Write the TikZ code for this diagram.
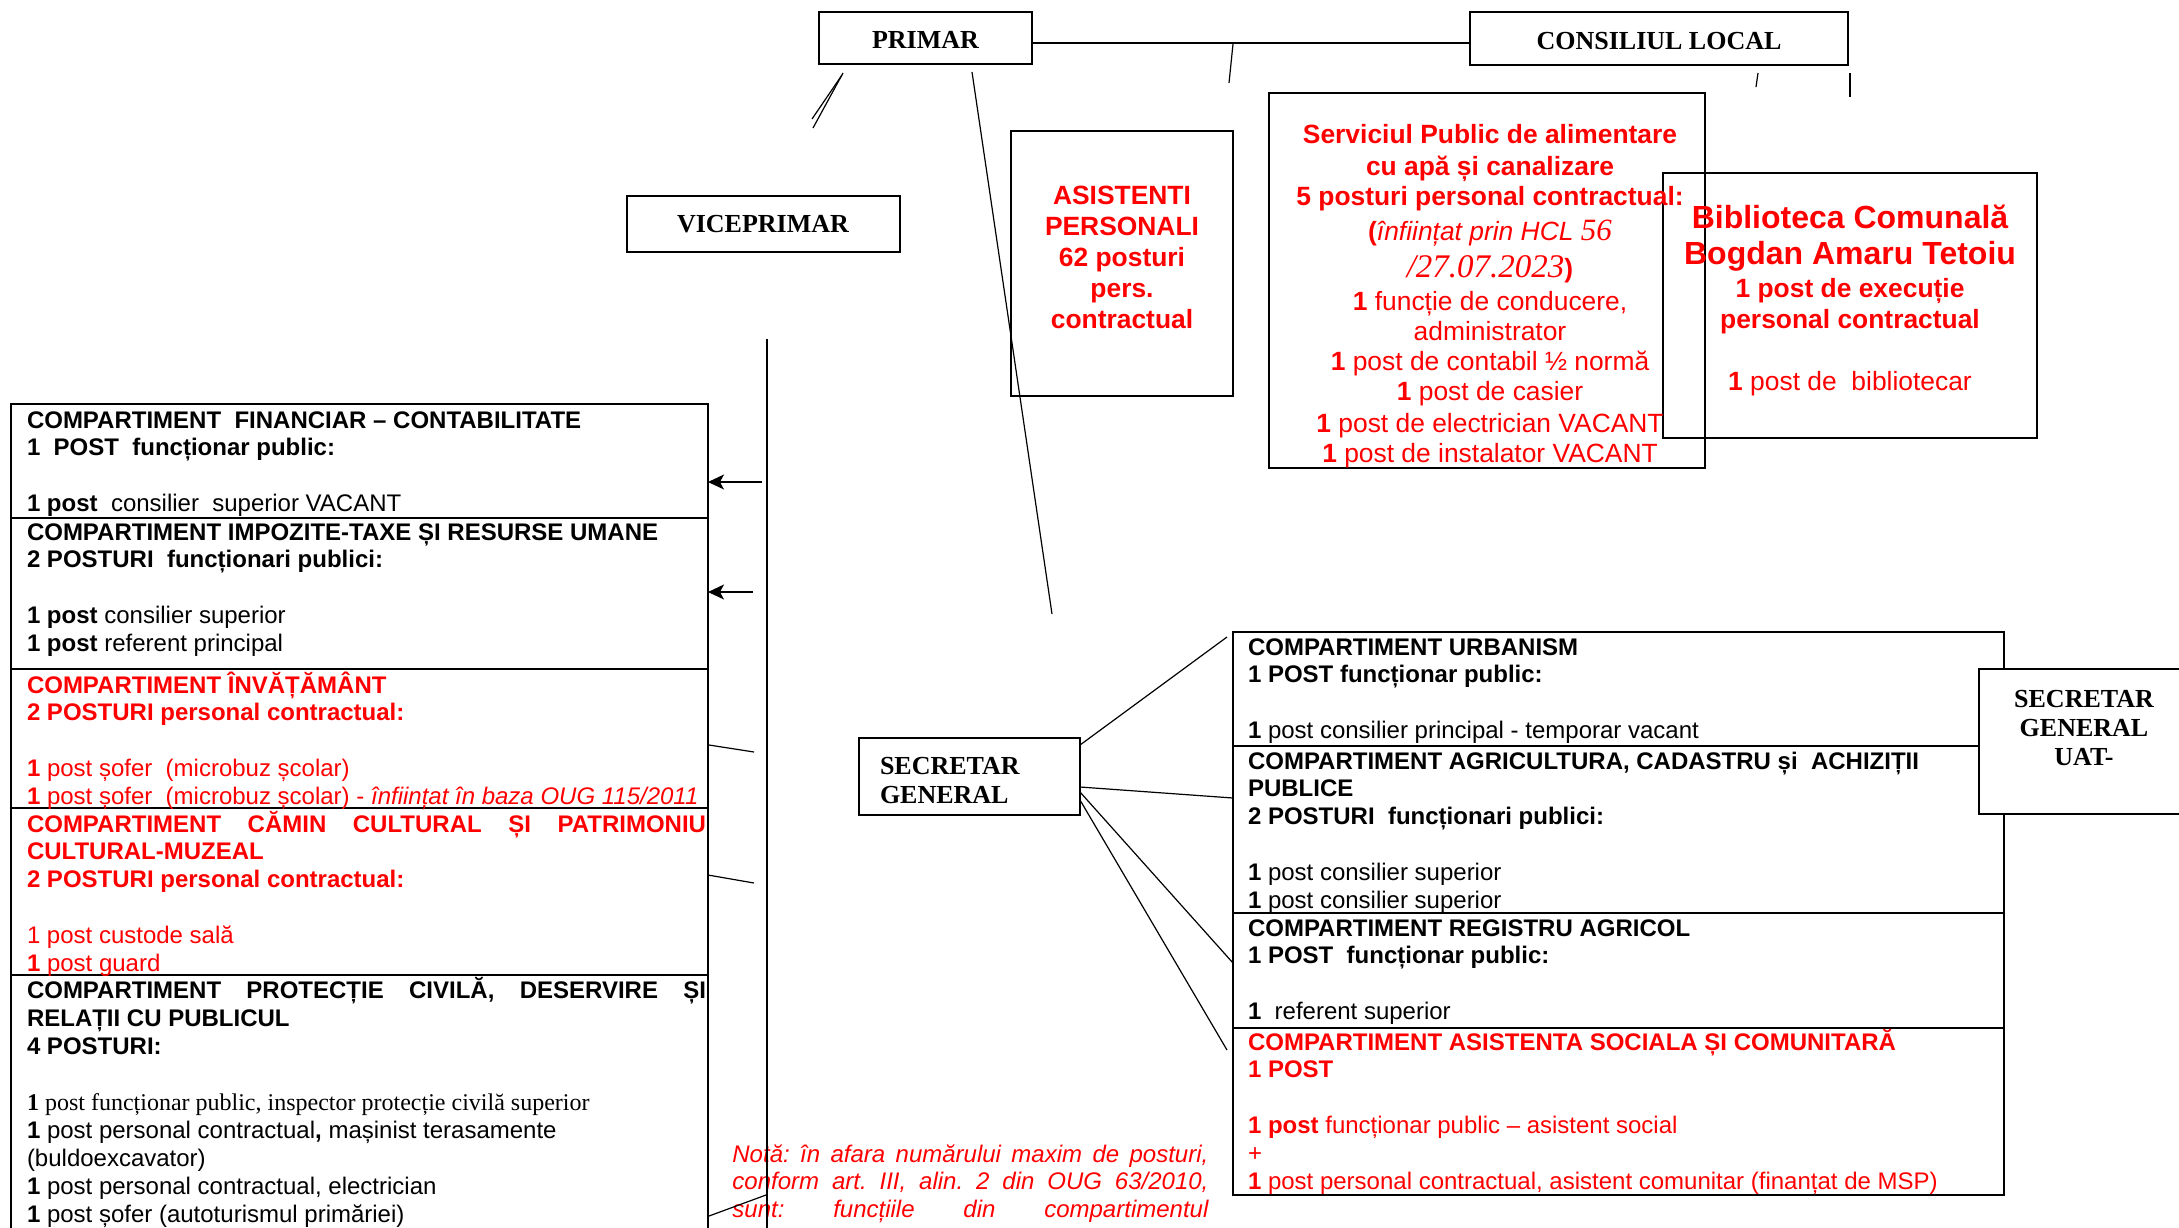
\documentclass[tikz,border=0pt]{standalone}
\usepackage{fontspec}
\setmainfont{Liberation Sans}
\newfontfamily\tnr{Liberation Serif}
\usetikzlibrary{fit,arrows.meta}
\definecolor{rd}{RGB}{255,0,0}
\frenchspacing
\begin{document}
\begin{tikzpicture}[x=0.5pt,y=-0.5pt,
  box/.style={draw, line width=0.7pt, inner sep=0pt, outer sep=0pt},
  cbox/.style={draw, line width=0.65pt, inner sep=0pt, outer sep=0pt},
  conn/.style={line width=0.6pt},
  arr/.style={conn, -{Stealth[length=8pt,width=7.5pt,inset=2pt]}},
  ttl/.style={inner sep=0pt, outer sep=0pt, font=\tnr\bfseries\fontsize{13}{15}\selectfont},
  ct/.style={inner sep=0pt, outer sep=0pt, anchor=base west, font=\frenchspacing\fontsize{12}{13.9}\selectfont},
  cl/.style={inner sep=0pt, outer sep=0pt, anchor=base, text=rd, font=\fontsize{13.2}{15.2}\selectfont},
]
\useasboundingbox (0,0) rectangle (2179,1227);

% ---------- top boxes ----------
\node[box, fit={(819,12) (1032,64)}] (primar) {};
\node[box, fit={(1470,12) (1848,65)}] (consiliul) {};
\node[box, fit={(627,196) (900,252)}] (vice) {};
\node[ttl, anchor=base] (tprimar) at (925.5,48) {PRIMAR};
\node[ttl, anchor=base] (tconsiliul) at (1659,49) {CONSILIUL LOCAL};
\node[ttl, anchor=base] (tvice) at (763,232) {VICEPRIMAR};
\node[box, fit={(1011,131) (1233,396)}] (asist) {};
\node[box, fit={(1269,93) (1705,468)}] (serv) {};
\node[box, fit={(1663,173) (2037,438)}] (bibl) {};
\node[box, fit={(859,738) (1080,815)}] (sg) {};

% ---------- left compartments ----------
\node[cbox, fit={(11,404) (708,518)}] (fin) {};
\node[cbox, fit={(11,518) (708,669)}] (imp) {};
\node[cbox, fit={(11,669) (708,808)}] (inv) {};
\node[cbox, fit={(11,808) (708,975)}] (cam) {};
\node[cbox, fit={(11,975) (708,1245)}] (pro) {};

% ---------- right compartments ----------
\node[cbox, fit={(1233,632) (2004,746)}] (urb) {};
\node[cbox, fit={(1233,746) (2004,913)}] (agr) {};
\node[cbox, fit={(1233,913) (2004,1028)}] (reg) {};
\node[cbox, fit={(1233,1028) (2004,1195)}] (asi) {};
\node[box, fill=white, fit={(1979,669) (2200,814)}] (sguat) {};

% ---------- texts of left compartments ----------
\node[ct] (tfin) at (27,428) {\parbox[t]{339.5pt}{\raggedright
  \textbf{COMPARTIMENT\ \ FINANCIAR – CONTABILITATE}\\
  \textbf{1\ \ POST\ \ funcționar public:}\\ \mbox{}\\
  \textbf{1 post}\ \ consilier\ \ superior VACANT}};
\node[ct] (timp) at (27,540) {\parbox[t]{339.5pt}{\raggedright
  \textbf{COMPARTIMENT IMPOZITE-TAXE ȘI RESURSE UMANE}\\
  \textbf{2 POSTURI\ \ funcționari publici:}\\ \mbox{}\\
  \textbf{1 post} consilier superior\\
  \textbf{1 post} referent principal}};
\node[ct, text=rd] (tinv) at (27,693) {\parbox[t]{339.5pt}{\raggedright
  \textbf{COMPARTIMENT ÎNVĂȚĂMÂNT}\\
  \textbf{2 POSTURI personal contractual:}\\ \mbox{}\\
  \textbf{1} post șofer\ \ (microbuz școlar)\\
  \textbf{1} post șofer\ \ (microbuz școlar) - \textit{înființat în baza OUG 115/2011}}};
\node[ct, text=rd] (tcam) at (27,832) {\parbox[t]{339.5pt}{\raggedright
  \makebox[\linewidth][s]{\bfseries COMPARTIMENT CĂMIN CULTURAL ȘI PATRIMONIU}\\
  \textbf{CULTURAL-MUZEAL}\\
  \textbf{2 POSTURI personal contractual:}\\ \mbox{}\\
  1 post custode sală\\
  \textbf{1} post guard}};
\node[ct, font=\frenchspacing\fontsize{12}{14}\selectfont] (tpro) at (27,998) {\parbox[t]{339.5pt}{\raggedright
  \makebox[\linewidth][s]{\bfseries COMPARTIMENT PROTECȚIE CIVILĂ, DESERVIRE ȘI}\\
  \textbf{RELAȚII CU PUBLICUL}\\
  \textbf{4 POSTURI:}\\ \mbox{}\\
  {\tnr\textbf{1} post funcționar public, inspector protecție civilă superior}\\
  \textbf{1} post personal contractual\textbf{,} mașinist terasamente\\
  (buldoexcavator)\\
  \textbf{1} post personal contractual, electrician\\
  \textbf{1} post șofer (autoturismul primăriei)}};

% ---------- texts of right compartments ----------
\node[ct] (turb) at (1248,655) {\parbox[t]{376pt}{\raggedright
  \textbf{COMPARTIMENT URBANISM}\\
  \textbf{1 POST funcționar public:}\\ \mbox{}\\
  \textbf{1} post consilier principal - temporar vacant}};
\node[ct] (tagr) at (1248,769) {\parbox[t]{376pt}{\raggedright
  \textbf{COMPARTIMENT AGRICULTURA, CADASTRU și\ \ ACHIZIȚII}\\
  \textbf{PUBLICE}\\
  \textbf{2 POSTURI\ \ funcționari publici:}\\ \mbox{}\\
  \textbf{1} post consilier superior\\
  \textbf{1} post consilier superior}};
\node[ct] (treg) at (1248,936) {\parbox[t]{376pt}{\raggedright
  \textbf{COMPARTIMENT REGISTRU AGRICOL}\\
  \textbf{1 POST\ \ funcționar public:}\\ \mbox{}\\
  \textbf{1}\ \ referent superior}};
\node[ct, text=rd] (tasi) at (1248,1050) {\parbox[t]{376pt}{\raggedright
  \textbf{COMPARTIMENT ASISTENTA SOCIALA ȘI COMUNITARĂ}\\
  \textbf{1 POST}\\ \mbox{}\\
  \textbf{1 post} funcționar public – asistent social\\
  +\\
  \textbf{1} post personal contractual, asistent comunitar (finanțat de MSP)}};

% ---------- secretar texts ----------
\node[ttl, anchor=base west] (tsg) at (880,774)
  {\parbox[t]{100pt}{\baselineskip=14.5pt SECRETAR\\GENERAL}};
\node[ttl, anchor=base] (tsguat) at (2084,707)
  {\parbox[t]{150pt}{\centering\baselineskip=14.5pt SECRETAR\\GENERAL\\UAT-}};

% ---------- asistenti personali ----------
\node[cl, font=\bfseries\fontsize{13.2}{15.5}\selectfont] (tasist) at (1122,204)
  {\parbox[t]{200pt}{\centering ASISTENTI\\PERSONALI\\62 posturi\\pers.\\contractual}};

% ---------- serviciul public ----------
\node[cl] (sv1) at (1490,143) {\textbf{Serviciul Public de alimentare}};
\node[cl] (sv2) at (1490,175) {\textbf{cu apă și canalizare}};
\node[cl] (sv3) at (1490,205) {\textbf{5 posturi personal contractual:}};
\node[cl] (sv4) at (1490,240) {\textbf{(}\textit{înființat prin HCL {\tnr\fontsize{15.5}{17}\selectfont 56}}};
\node[cl] (sv5) at (1490,277) {{\tnr\itshape\fontsize{16.5}{18}\selectfont /27.07.2023}\textbf{)}};
\node[cl] (sv6) at (1490,310) {\textbf{1} funcție de conducere,};
\node[cl] (sv7) at (1490,340) {administrator};
\node[cl] (sv8) at (1490,370) {\textbf{1} post de contabil ½ normă};
\node[cl] (sv9) at (1490,400) {\textbf{1} post de casier};
\node[cl] (sv10) at (1490,432) {\textbf{1} post de electrician VACANT};
\node[cl] (sv11) at (1490,462) {\textbf{1} post de instalator VACANT};

% ---------- biblioteca ----------
\node[cl, font=\bfseries\fontsize{16}{18}\selectfont] (bb1) at (1850,228) {Biblioteca Comunală};
\node[cl, font=\bfseries\fontsize{16}{18}\selectfont] (bb2) at (1850,264) {Bogdan Amaru Tetoiu};
\node[cl] (bb3) at (1850,297) {\textbf{1 post de execuție}};
\node[cl] (bb4) at (1850,328) {\textbf{personal contractual}};
\node[cl] (bb5) at (1850,390) {\textbf{1} post de\ \ bibliotecar};

% ---------- nota ----------
\node[inner sep=0pt, anchor=base west, text=rd, font=\frenchspacing\itshape\fontsize{12}{13.9}\selectfont] (nota) at (732,1162)
  {\parbox[t]{238pt}{\makebox[238pt][s]{Notă: în afara numărului maxim de posturi,}\\
  \makebox[238pt][s]{conform art. III, alin. 2 din OUG 63/2010,}\\
  \makebox[238pt][s]{sunt: funcțiile din compartimentul}}};

% ---------- connectors ----------
\coordinate (hl) at (0,43);
\draw[conn] (primar.east |- hl) -- (consiliul.west |- hl);
\coordinate (st1) at (1233,44); \coordinate (st2) at (1229,83);
\draw[conn] (st1) -- (st2);
\coordinate (cs1a) at (1758,73); \coordinate (cs1b) at (1756,87);
\coordinate (cs2a) at (1850,73); \coordinate (cs2b) at (1850,97);
\draw[conn] (cs1a) -- (cs1b);
\draw[conn] (cs2a) -- (cs2b);
\coordinate (pv1) at (843,73); \coordinate (pv2) at (813,128);
\coordinate (pv3) at (842,75); \coordinate (pv4) at (812,119);
\draw[conn] (pv1) -- (pv2);
\draw[conn] (pv3) -- (pv4);
\coordinate (pl1) at (972,72); \coordinate (pl2) at (1052,614);
\draw[conn] (pl1) -- (pl2);
\coordinate (vl1) at (767,339); \coordinate (vl2) at (767,1240);
\draw[conn] (vl1) -- (vl2);
\coordinate (a1) at (762,482); \coordinate (a2) at (753,592);
\draw[arr] (a1) -- (fin.east |- a1);
\draw[arr] (a2) -- (imp.east |- a2);
\coordinate (l1a) at (709,745); \coordinate (l1b) at (754,752);
\coordinate (l2a) at (708,875); \coordinate (l2b) at (754,883);
\coordinate (l3a) at (709,1216); \coordinate (l3b) at (766,1195);
\draw[conn] (l1a) -- (l1b);
\draw[conn] (l2a) -- (l2b);
\draw[conn] (l3a) -- (l3b);
\coordinate (g1) at (1080,745); \coordinate (u1) at (1227,637);
\coordinate (g2) at (1080,787); \coordinate (u2) at (1233,798);
\coordinate (g3) at (1080,792); \coordinate (u3) at (1233,963);
\coordinate (g4) at (1080,800); \coordinate (u4) at (1227,1050);
\draw[conn] (g1) -- (u1);
\draw[conn] (g2) -- (u2);
\draw[conn] (g3) -- (u3);
\draw[conn] (g4) -- (u4);
\end{tikzpicture}
\end{document}
